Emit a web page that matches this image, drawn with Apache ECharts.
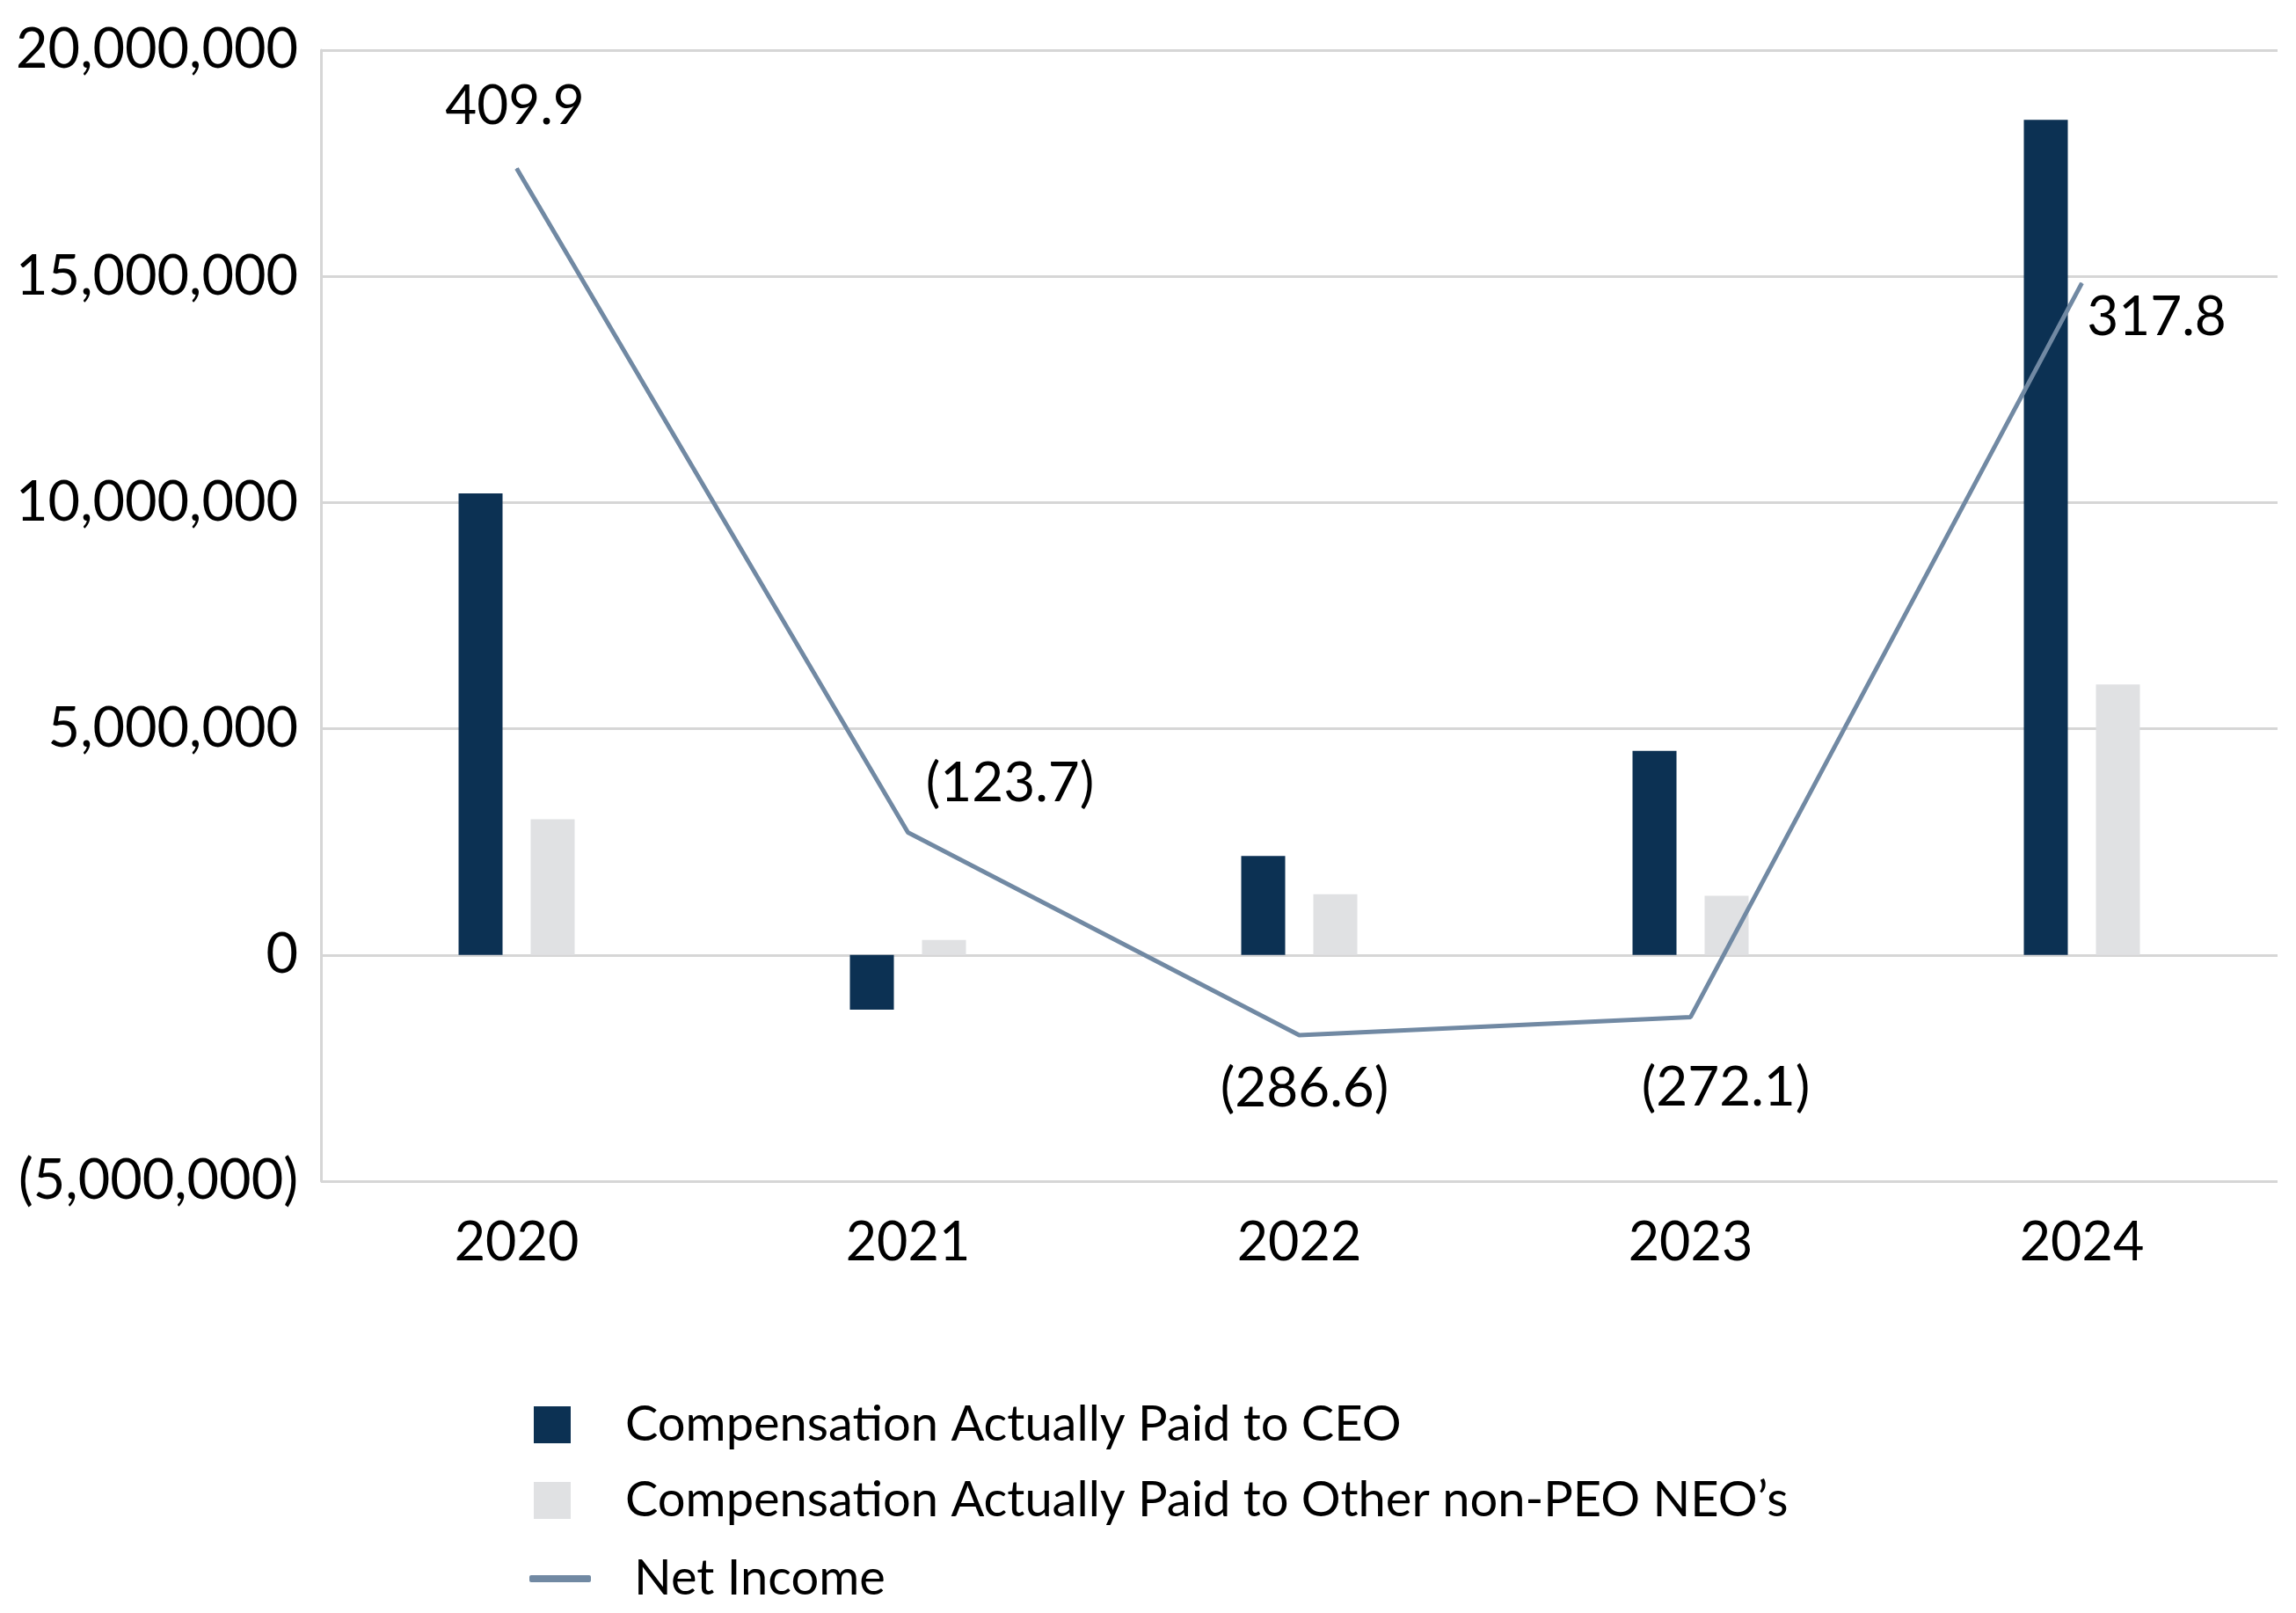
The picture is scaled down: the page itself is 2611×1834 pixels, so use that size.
<!DOCTYPE html>
<html>
<head>
<meta charset="utf-8">
<script src="https://cdn.jsdelivr.net/npm/echarts@6/dist/echarts.min.js"></script>
<style>
html,body{margin:0;padding:0;background:#fff;}
#chart{width:2611px;height:1834px;}
</style>
</head>
<body>
<div id="chart"></div>
<script>
const categories = ['2020', '2021', '2022', '2023', '2024'];
const ceoComp = [10200000, -1210000, 2190000, 4510000, 18460000];
const otherComp = [3000000, 330000, 1340000, 1310000, 5980000];
const netIncome = [409.9, -123.7, -286.6, -272.1, 317.8];
const yTicks = [-5000000, 0, 5000000, 10000000, 15000000, 20000000];
const labelOffsets = [[-2, -71], [116, -55], [6, 61], [40, 81], [85, 39]];

const FONT = 'Lato';
const fmtNum = v => {
  const s = Math.abs(v).toLocaleString('en-US');
  return v < 0 ? '(' + s + ')' : s;
};
const fmtNI = v => v < 0 ? '(' + Math.abs(v).toFixed(1) + ')' : v.toFixed(1);

const chart = echarts.init(document.getElementById('chart'));
chart.setOption({
  animation: false,
  backgroundColor: '#ffffff',
  grid: {left: 365, right: 21, top: 57, bottom: 491, containLabel: false},
  legend: [{
    orient: 'vertical',
    left: 607,
    top: 1592,
    padding: 0,
    itemWidth: 42,
    itemHeight: 42,
    itemGap: 30,
    icon: 'rect',
    data: ['Compensation Actually Paid to CEO', 'Compensation Actually Paid to Other non-PEO NEO\u2019s'],
    textStyle: {fontFamily: FONT, fontSize: 56, color: '#000', padding: [0, 0, 0, 57]}
  }, {
    orient: 'vertical',
    left: 602,
    top: 1767,
    padding: 0,
    itemWidth: 70,
    itemHeight: 8,
    icon: 'roundRect',
    data: ['Net Income'],
    textStyle: {fontFamily: FONT, fontSize: 56, color: '#000', padding: [0, 0, 0, 44]}
  }],
  xAxis: {
    type: 'category',
    data: categories,
    axisLine: {show: false, onZero: false},
    axisTick: {show: false},
    axisLabel: {fontFamily: FONT, fontSize: 61, color: '#000', margin: 40}
  },
  yAxis: [{
    type: 'value',
    min: -5000000,
    max: 20000000,
    interval: 5000000,
    axisLine: {show: true, lineStyle: {color: '#D6D6D6', width: 3}},
    axisTick: {show: false},
    splitLine: {show: true, lineStyle: {color: '#D6D6D6', width: 3}},
    axisLabel: {fontFamily: FONT, fontSize: 63, color: '#000', margin: 26,
      formatter: v => yTicks.includes(v) ? fmtNum(v) : ''}
  }, {
    type: 'value',
    min: -404,
    max: 505,
    show: false,
    splitLine: {show: false}
  }],
  series: [{
    name: 'Compensation Actually Paid to CEO',
    type: 'bar',
    data: ceoComp,
    barWidth: 50,
    barGap: '64%',
    itemStyle: {color: '#0C3153'}
  }, {
    name: 'Compensation Actually Paid to Other non-PEO NEO\u2019s',
    type: 'bar',
    data: otherComp,
    barWidth: 50,
    itemStyle: {color: '#E0E1E3'}
  }, {
    name: 'Net Income',
    type: 'line',
    yAxisIndex: 1,
    data: netIncome.map((v, i) => ({
      value: v,
      label: {offset: labelOffsets[i]}
    })),
    symbol: 'circle',
    symbolSize: 1,
    showSymbol: true,
    lineStyle: {color: '#7189A3', width: 5},
    itemStyle: {color: '#7189A3'},
    label: {
      show: true,
      position: 'inside',
      fontFamily: FONT,
      fontSize: 62,
      color: '#000',
      formatter: p => fmtNI(p.value)
    },
    z: 5
  }]
});
</script>
</body>
</html>
